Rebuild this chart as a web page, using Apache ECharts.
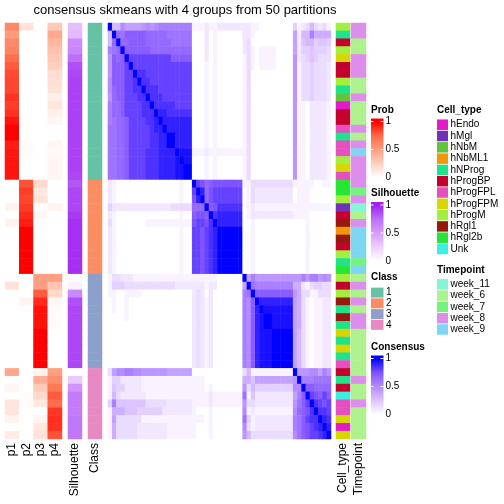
<!DOCTYPE html>
<html><head><meta charset="utf-8">
<script src="https://cdn.jsdelivr.net/npm/echarts@6/dist/echarts.min.js"></script>
<style>html,body{margin:0;padding:0;background:#fff}#c{width:504px;height:504px}</style>
</head><body><div id="c"></div>
<script>
// ---------------- data ----------------
const titleText = 'consensus skmeans with 4 groups from 50 partitions';
const probNames = ['p1', 'p2', 'p3', 'p4'];
const probP1 = [0.6,0.52,0.6,0.63,0.72,0.78,0.82,0.83,0.83,0.88,0.85,0.88,0.95,1,1,0.93,0.95,0.95,0.95,0.95,
  0,0,0,0.06,0,0.06,0,0,0,0,0,0,
  0,0.15,0,0,0,0,0,0,0,0,0,0,
  0.45,0,0.05,0,0.13,0.13,0.06,0,0.1];
const probP2 = [0.15,0,0,0,0,0,0,0,0,0,0,0,0,0,0,0.02,0.02,0,0,0,
  0.8,0.85,0.83,0.86,0.9,0.93,1,1,1,1,1,1,
  0,0,0,0.05,0,0,0,0,0,0,0,0,
  0,0,0,0.02,0.02,0,0,0,0];
const probP3 = [0,0,0,0,0,0,0,0,0,0,0,0,0,0,0,0,0,0,0,0,
  0.2,0.12,0.15,0,0.04,0,0,0,0,0,0,0,
  0.5,0.5,0.78,0.9,0.96,0.96,0.96,1,1,1,1,1,
  0.06,0.42,0.28,0.2,0.12,0,0.05,0.12,0.15];
const probP4 = [0.28,0.45,0.38,0.33,0.28,0.25,0.18,0.17,0.15,0.08,0.13,0.08,0.05,0,0,0.05,0.03,0.05,0.05,0.05,
  0,0,0,0.06,0,0,0,0,0,0,0,0,
  0.5,0.3,0.2,0.04,0.02,0.02,0.02,0,0,0,0,0,
  0.49,0.58,0.67,0.78,0.73,0.87,0.89,0.88,0.8];
const silhouette = [0.33,0.35,0.6,0.62,0.75,0.85,0.88,0.9,0.9,0.9,0.9,0.9,0.9,0.9,0.9,0.9,0.9,0.9,0.9,0.88,
  0.83,0.88,0.88,0.88,0.92,0.95,0.95,0.95,0.95,0.95,0.95,0.95,
  0.02,0.06,0.6,0.85,0.88,0.88,0.88,0.88,0.88,0.88,0.88,0.88,
  0,0.28,0.55,0.68,0.68,0.68,0.7,0.7,0.7];
const classNames = ['1', '2', '3', '4'];
const sampleClass = ['1','1','1','1','1','1','1','1','1','1','1','1','1','1','1','1','1','1','1','1',
  '2','2','2','2','2','2','2','2','2','2','2','2',
  '3','3','3','3','3','3','3','3','3','3','3','3',
  '4','4','4','4','4','4','4','4','4'];
const cellTypeNames = ['hEndo','hMgl','hNbM','hNbML1','hNProg','hProgBP','hProgFPL','hProgFPM','hProgM','hRgl1','hRgl2b','Unk'];
const cellType = ['hProgM','hNProg','hProgBP','hProgM','hProgFPM','hProgBP','hProgBP','hProgM','hNProg','hNbM',
  'hEndo','hProgBP','hProgBP','hProgFPL','hNProg','hProgFPL','hProgFPL','hProgM','hProgFPM','hProgFPL',
  'hRgl2b','hRgl2b','hProgM','hMgl','hProgBP','hRgl1','hNbML1','hRgl1','hProgBP','hProgM','hNProg','hRgl2b',
  'hProgM','hProgBP','hProgM','hRgl1','hNProg','hRgl1','hNProg','hProgFPM','hNProg','hProgFPM','hNProg','hProgFPL',
  'hProgBP','hNProg','hProgBP','Unk','hProgFPL','hProgFPL','hProgFPM','hEndo','hProgFPM'];
const timepointNames = ['week_11','week_6','week_7','week_8','week_9'];
const timepoint = ['week_8','week_8','week_6','week_6','week_8','week_8','week_8','week_6','week_6','week_8',
  'week_6','week_6','week_6','week_8','week_6','week_8','week_9','week_8','week_8','week_8',
  'week_8','week_7','week_8','week_11','week_6','week_8','week_9','week_9','week_9','week_9','week_7','week_9',
  'week_6','week_8','week_6','week_8','week_6','week_8','week_8','week_6','week_6','week_6','week_6','week_6',
  'week_6','week_8','week_6','week_6','week_8','week_6','week_6','week_6','week_6'];
// consensus matrix, one string per row; each character is a level in steps of 0.05 (0 .. K = 0 .. 1)
const consensusLevels = '0123456789ABCDEFGHIJK';
const consensusRows = [
  'K66A88889A9ABBBBBBBB 111211222222 221100000000 412363231',
  '6KDCEEEEEDDDDDCCCCCC 000201000000 221000000000 8266B7777',
  '6DKDDEEEEDDDDDDCCCCC 000201000000 230000000000 825664554',
  'BCDKEEEEEEDDDDDDDDDD 000201000000 231011110000 824454443',
  '9EDEKGGGGGGGGGGEEEEE 000201000000 131011110000 923454333',
  '9EEEGKGGGGGGGGGGGGGG 000101000000 131011110000 913343332',
  '9EEEGGKHHGGGGGGGGGGG 000101000000 130000000000 913343332',
  'AEEEGGHKHHGGGGGGGGGG 000101000000 130000000000 913343332',
  'ADEEGGHHKHHHGGGGGGGG 000101000000 130000000000 913343332',
  '9DEEGGGHHKHHHGGGGGGG 000101000000 130000000000 913343332',
  'BDDEGGGGHHKHHHHHGGGG 000101000000 130000000000 911022221',
  'BDDEGGGGHHHKIIHHHHHH 000101000000 130000000000 911022221',
  'BCDDEGGGGHHIKIIIIIII 000101000000 130000000000 911022221',
  'CCDDEGGGGGHIIKIIIIII 000101000000 130000000000 911022221',
  'CCDDEGGGGGHHIIKKIIII 000101000000 130000000000 911022221',
  'CCDDEGGGGGHHIIKKIIII 000101000000 130000000000 911022221',
  'CCDDEGGGGHHHIIIIKJJJ 111211111111 130000000000 911022221',
  'CCDDEGGGGHHHIIIIJKJJ 000101000000 130000000000 911022221',
  'CCDDEGGGGHHHIIIIJJKK 000101000000 130000000000 911022221',
  'CCDDEGGGGHHHIIIIJJKK 000101000000 130000000000 911022221',
  '21000000000000000100 KGFDEFFFFFFF 113333333333 111110011',
  '21000000000000000100 GKIDFGGGGGGG 013222222222 011100000',
  '21000000000000000100 FIKDFGGGGGGG 013222222222 011100000',
  '42222222222222233333 DDDKEFHHHHHH 012111111111 111111111',
  '21000000000000000100 EFFEKHIIIIII 012222222222 111100000',
  '31000000011111111111 FGGFHKIIIIII 001000000000 000100000',
  '21000000000000000100 GGFGHIKKKKKK 001000000000 000100000',
  '21000000000000000100 GGFGHIKKKKKK 001000000000 000100000',
  '21000000000000000100 GGFGHIKKKKKK 001000000000 000100000',
  '21000000000000000100 GGFGHIKKKKKK 001000000000 000100000',
  '21000000000000000100 GGFGHIKKKKKK 001000000000 000100000',
  '21000000000000000100 GGFGHIKKKKKK 001000000000 000100000',
  '13322211111111111111 111111000000 K8B999999999 99B9BB9A9',
  '14443333333333332222 222122000000 8KCBBBBBBBBB 772134433',
  '11001111000000000000 232020000000 BCKEEEEEEEEE 973311333',
  '01001000000000000000 232120000000 BAEKIIIIIIII 873101122',
  '01001000000000000000 232120000000 BAEIKJJJJJJJ 873101122',
  '00001000000000000000 232120000000 BAEIJKKJJJJJ 873101122',
  '00000000000000000000 232120000000 BAEIJKKJJJJJ 873101122',
  '00000000000000000000 232120000000 BAEIJJJKKKKK 863101122',
  '00000000000000000000 232120000000 BAEIJJJKKKKK 863101122',
  '00000000000000000000 232120000000 BAEIJJJKKKKK 863101122',
  '00000000000000000000 232120000000 BAEIJJJKKKKK 863101122',
  '00000000000000000000 232120000000 BAEIJJJKKKKK 863101122',
  '38AABBAA999999888888 000000000000 361111111111 K999AA8B9',
  '14422222111111111111 111000000000 775888888888 9KBBBCCCC',
  '15442222111111111111 111010000000 936444444444 AAKEEDDDD',
  '16322222211111111111 111121111111 C15222222222 8BEKGFEGE',
  '4B555555533333222222 111121111111 933222222222 9CEGKHGFG',
  '17775554444442222222 100010000000 A12111111111 ADEFHKHHG',
  '18333333111111111111 111010000000 C41222222222 BCEGHHKIH',
  '17333332222222111111 100010000000 A31222222222 BCEFGHIKI',
  '17333332222222111111 100010000000 963333333333 ACEFGGHIK'
];
const legendTicks = ['1', '0.5', '0'];

// ---------------- styles ----------------
const FONT = '"Liberation Sans", Arial, Helvetica, sans-serif';
const redRamp = ['#FFFFFF', '#FFCFBE', '#FF9E81', '#FF6846', '#FF0000'];
const purpleRamp = ['#FFFFFF', '#ECCFFE', '#D69BFC', '#BB6FF9', '#A020F0'];
const blueRamp = ['#FFFFFF', '#DCC4FF', '#B38BFF', '#7E52FF', '#0000FF'];
const classColors = ['#66C2A5', '#FC8D62', '#8DA0CB', '#E78AC3'];
const cellTypeColors = ['#E31AC8', '#7232B8', '#62C43C', '#F5960A', '#1EE38A', '#C4002E',
  '#E54FC0', '#D6D600', '#A2F03C', '#96190F', '#25E632', '#3DEFE3'];
const timepointColors = ['#85F5D5', '#AEF28E', '#73F57D', '#DD8EEC', '#7FD6F2'];

// ---------------- build ----------------
const rowIds = consensusRows.map((_, i) => 'r' + i);
const matrix = consensusRows.map(s => s.replace(/ /g, '').split('').map(ch => consensusLevels.indexOf(ch) / 20));

const probData = [];
[probP1, probP2, probP3, probP4].forEach((arr, j) => arr.forEach((v, i) => probData.push([j, i, v])));
const silData = silhouette.map((v, i) => [0, i, v]);
const classData = sampleClass.map((c, i) => [0, i, classNames.indexOf(c)]);
const consData = [];
matrix.forEach((row, i) => row.forEach((v, j) => consData.push([j, i, v])));
const ctData = cellType.map((c, i) => [0, i, cellTypeNames.indexOf(c)]);
const tpData = timepoint.map((c, i) => [0, i, timepointNames.indexOf(c)]);

const TOP = 23, H = 416;
const grids = [
  { left: 5, width: 57 }, { left: 68, width: 14 }, { left: 88, width: 14 },
  { left: 108, width: 223 }, { left: 336, width: 14 }, { left: 351, width: 15 }
].map(g => ({ left: g.left, width: g.width, top: TOP, height: H, containLabel: false }));
const xCats = [probNames, ['Silhouette'], ['Class'], rowIds, ['Cell_type'], ['Timepoint']];
const xAxes = xCats.map((cats, k) => ({
  type: 'category', gridIndex: k, data: cats, position: 'bottom',
  axisLine: { show: false }, axisTick: { show: false }, splitLine: { show: false },
  axisLabel: { show: k !== 3, rotate: 90, interval: 0, margin: 4, fontSize: 12, color: '#000', fontFamily: FONT }
}));
const yAxes = xCats.map((_, k) => ({ type: 'category', gridIndex: k, data: rowIds, inverse: true, show: false }));
const mk = (k, data) => ({
  type: 'heatmap', xAxisIndex: k, yAxisIndex: k, data: data, progressive: 0,
  emphasis: { disabled: true }, itemStyle: { borderWidth: 0 }
});
const series = [mk(0, probData), mk(1, silData), mk(2, classData), mk(3, consData), mk(4, ctData), mk(5, tpData)];
const pw = (idx, colors) => ({ type: 'piecewise', show: false, seriesIndex: idx, dimension: 2,
  pieces: colors.map((c, i) => ({ value: i, color: c })) });
const ct = (idx, colors) => ({ type: 'continuous', show: false, seriesIndex: idx, dimension: 2, min: 0, max: 1,
  inRange: { color: colors } });
const visualMaps = [ct(0, redRamp), ct(1, purpleRamp), pw(2, classColors), ct(3, blueRamp),
  pw(4, cellTypeColors), pw(5, timepointColors)];

// ---------------- legends (graphic) ----------------
const G = [];
const txt = (x, y, s, size, bold, align) => G.push({ type: 'text', x: x, y: y, silent: true,
  style: { text: s, fill: '#000', font: (bold ? 'bold ' : '') + size + 'px ' + FONT,
    textAlign: align || 'left', textVerticalAlign: 'middle' } });
txt(185, 10, titleText, 13, false, 'center');

function colorBar(title, titleY, ramp) {
  txt(371, titleY, title, 10, true);
  const y1 = titleY + 11.5, y0 = titleY + 67.5;
  const top = y1 - 3, bot = y0 + 3, h = bot - top;
  const o1 = (y1 - top) / h, o0 = (y0 - top) / h;
  const stops = [{ offset: 0, color: ramp[4] }];
  for (let k = 4; k >= 0; k--) stops.push({ offset: o1 + (o0 - o1) * (4 - k) / 4, color: ramp[k] });
  stops.push({ offset: 1, color: ramp[0] });
  G.push({ type: 'rect', silent: true, shape: { x: 371, y: top, width: 12.5, height: h },
    style: { fill: new echarts.graphic.LinearGradient(0, 0, 0, 1, stops) } });
  legendTicks.forEach((t, i) => {
    const y = y1 + (y0 - y1) * i / 2;
    G.push({ type: 'line', silent: true, shape: { x1: 371, y1: y, x2: 373.5, y2: y }, style: { stroke: '#fff', lineWidth: 1 } });
    G.push({ type: 'line', silent: true, shape: { x1: 380.5, y1: y, x2: 383.5, y2: y }, style: { stroke: '#fff', lineWidth: 1 } });
    txt(385.5, y, t, 10, false);
  });
}
colorBar('Prob', 110, redRamp);
colorBar('Silhouette', 193.5, purpleRamp);
colorBar('Consensus', 347, blueRamp);

function discrete(title, x, titleY, firstY, step, w, names, colors) {
  txt(x, titleY, title, 10, true);
  names.forEach((n, i) => {
    const cy = firstY + i * step;
    G.push({ type: 'rect', silent: true, shape: { x: x, y: cy - step / 2 + 0.4, width: w, height: step - 0.8 },
      style: { fill: colors[i] } });
    txt(x + w + 2.5, cy, n, 10, false);
  });
}
discrete('Class', 371, 277, 292.6, 10.75, 12.5, classNames, classColors);
discrete('Cell_type', 437, 110, 124.7, 11.3, 11, cellTypeNames, cellTypeColors);
discrete('Timepoint', 437, 270, 284.3, 11.3, 11, timepointNames, timepointColors);

const chart = echarts.init(document.getElementById('c'), null, { renderer: 'canvas' });
chart.setOption({
  animation: false,
  backgroundColor: '#fff',
  grid: grids, xAxis: xAxes, yAxis: yAxes,
  visualMap: visualMaps, series: series, graphic: G
});
</script></body></html>
